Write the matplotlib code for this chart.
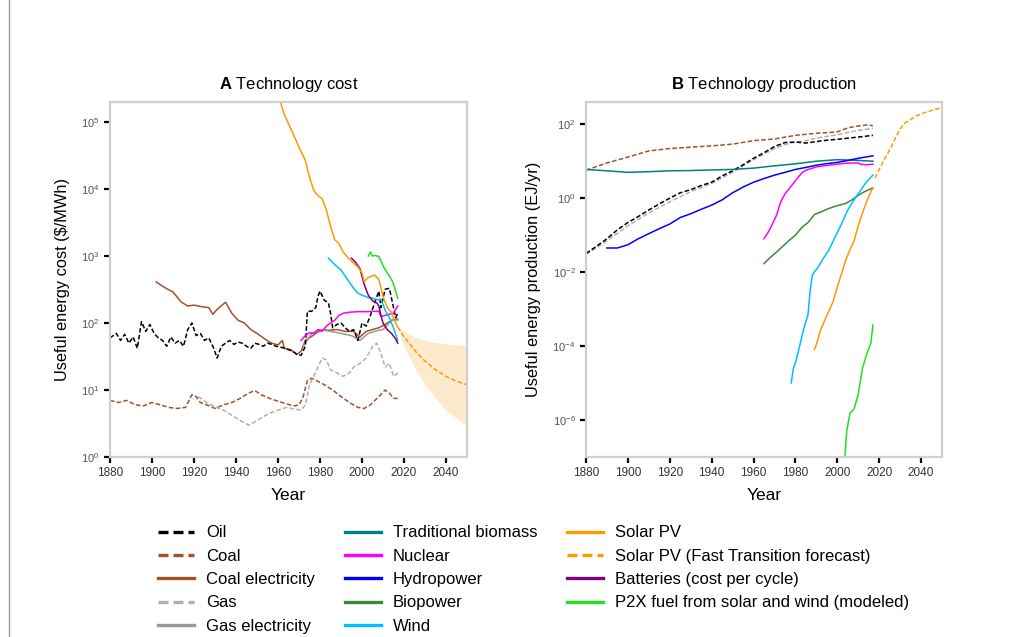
import numpy as np
import matplotlib.pyplot as plt
from matplotlib.lines import Line2D

plt.rcParams['font.family'] = ['Liberation Sans', 'DejaVu Sans']
plt.rcParams['mathtext.fontset'] = 'custom'
plt.rcParams['mathtext.rm'] = 'Liberation Sans'
plt.rcParams['mathtext.bf'] = 'Liberation Sans:bold'

# ---------------- panel A: cost ($/MWh) ----------------
oil_cost_yr = [1880, 1883, 1885, 1887, 1889, 1891, 1893, 1895, 1897, 1899, 1901, 1903, 1905, 1907,
               1909, 1911, 1913, 1915, 1917, 1919, 1921, 1923, 1925, 1927, 1929, 1931, 1933, 1935,
               1937, 1939, 1941, 1943, 1945, 1947, 1949, 1951, 1953, 1955, 1957, 1959, 1961, 1963,
               1965, 1967, 1969, 1971, 1973, 1974, 1976, 1978, 1979, 1980, 1982, 1984, 1985, 1986,
               1988, 1990, 1992, 1994, 1996, 1998, 2000, 2002, 2004, 2006, 2008, 2009, 2011, 2013,
               2015, 2016, 2017]
oil_cost = [60, 70, 55, 68, 50, 62, 42, 105, 75, 95, 70, 60, 55, 45,
            62, 50, 55, 45, 80, 100, 65, 70, 55, 60, 45, 30, 45, 50,
            55, 48, 52, 50, 45, 42, 50, 48, 45, 50, 48, 45, 44, 42,
            40, 38, 34, 33, 45, 150, 150, 170, 250, 300, 220, 200, 140, 85,
            95, 100, 85, 75, 80, 55, 100, 90, 130, 200, 300, 170, 320, 330,
            170, 120, 140]

coal_cost_yr = [1880, 1884, 1888, 1892, 1896, 1900, 1904, 1908, 1912, 1916, 1919, 1921, 1923, 1926,
                1930, 1934, 1938, 1942, 1946, 1949, 1952, 1956, 1960, 1964, 1968, 1970, 1972, 1974,
                1976, 1978, 1982, 1986, 1990, 1994, 1998, 2001, 2004, 2008, 2011, 2013, 2015, 2017]
coal_cost = [7, 6.5, 7, 6, 5.8, 6.5, 6, 5.5, 5.3, 5.5, 8.5, 8, 6.5, 6,
             5.3, 6, 6.5, 7.5, 9, 9.8, 8.5, 7.5, 6.8, 6.2, 5.8, 6, 8, 14,
             15, 14, 12, 10, 8, 6.5, 5.5, 5.3, 6, 8, 10, 9, 7.5, 7.5]

coal_el_yr = [1902, 1906, 1910, 1914, 1917, 1920, 1924, 1927, 1929, 1931, 1935, 1938, 1941, 1944,
              1947, 1950, 1954, 1957, 1960, 1962, 1963, 1966, 1969, 1971, 1973, 1975, 1978, 1981,
              1984, 1988, 1992, 1996, 1999, 2002, 2005, 2008, 2011, 2014, 2017]
coal_el_cost = [410, 340, 290, 205, 180, 185, 175, 170, 135, 160, 205, 140, 110, 100,
                80, 70, 57, 50, 47, 55, 42, 40, 34, 38, 55, 60, 70, 80,
                78, 80, 75, 75, 62, 75, 80, 85, 95, 110, 115]

gas_cost_yr = [1922, 1926, 1930, 1934, 1938, 1942, 1946, 1948, 1950, 1953, 1956, 1960, 1964, 1968,
               1971, 1973, 1975, 1977, 1979, 1981, 1983, 1985, 1988, 1991, 1994, 1996, 1999, 2002,
               2005, 2007, 2009, 2011, 2013, 2015, 2017]
gas_cost = [8, 6.5, 5.6, 5, 4.2, 3.5, 3, 3.2, 3.5, 4, 4.5, 5, 5.5, 5.2,
            5, 6, 12, 16, 22, 30, 28, 20, 18, 16, 18, 22, 25, 30,
            45, 50, 35, 22, 25, 16, 18]

gas_el_yr = [1972, 1976, 1980, 1985, 1990, 1995, 1999, 2003, 2006, 2008, 2010, 2013, 2015, 2017]
gas_el_cost = [45, 70, 80, 75, 70, 65, 55, 70, 75, 78, 80, 100, 115, 110]

nuc_cost_yr = [1971, 1973, 1975, 1977, 1979, 1981, 1983, 1985, 1987, 1989, 1991, 1994, 1998, 2002,
               2006, 2008, 2009, 2011, 2013, 2015, 2017]
nuc_cost = [55, 65, 72, 70, 80, 75, 90, 100, 110, 130, 140, 145, 148, 148,
            150, 150, 125, 130, 135, 140, 180]

pv_cost_yr = [1960, 1963, 1967, 1970, 1973, 1975, 1977, 1979, 1981, 1983, 1985, 1987, 1989, 1991,
              1993, 1996, 1998, 2000, 2001, 2003, 2006, 2008, 2010, 2012, 2014, 2016, 2017]
pv_cost = [260000, 130000, 69000, 42000, 27000, 15000, 9500, 8000, 7200, 4900, 2800, 1750, 1550, 1150,
           970, 780, 690, 560, 420, 480, 520, 450, 250, 170, 145, 100, 87]

pv_fc_yr = [2017, 2020, 2023, 2026, 2030, 2035, 2040, 2045, 2050]
pv_fc_cost = [87, 62, 48, 36, 27, 20, 16, 13.5, 12]
pv_fc_hi = [87, 75, 66, 60, 55, 51, 49, 47, 47]
pv_fc_lo = [87, 45, 29, 19, 12, 7.5, 5, 3.8, 2.9]

wind_cost_yr = [1984, 1986, 1988, 1990, 1993, 1996, 1998, 2000, 2003, 2005, 2008, 2009, 2010, 2011,
                2013, 2015, 2017]
wind_cost = [930, 800, 700, 620, 450, 330, 280, 260, 240, 235, 220, 225, 190, 155, 120, 85, 55]

batt_yr = [1995, 1997, 1999, 2001, 2003, 2005, 2007, 2008, 2009, 2010, 2012, 2014, 2016, 2017]
batt_cost = [930, 800, 650, 380, 260, 215, 200, 180, 130, 100, 80, 70, 58, 50]

p2x_cost_yr = [2003, 2004, 2005, 2006, 2008, 2010, 2012, 2014, 2015, 2016, 2017]
p2x_cost = [1000, 1150, 1000, 1020, 990, 720, 560, 450, 380, 300, 235]

# ---------------- panel B: production (EJ/yr) ----------------
coal_prod_yr = [1880, 1890, 1900, 1910, 1920, 1930, 1940, 1950, 1960, 1970, 1980, 1990, 2000, 2005,
                2010, 2014, 2017]
coal_prod = [5.7, 9, 13, 19, 22, 24, 26, 29, 36, 40, 50, 57, 62, 80, 90, 95, 92]

oil_prod_yr = [1880, 1885, 1890, 1895, 1900, 1905, 1910, 1915, 1920, 1925, 1930, 1935, 1940, 1945,
               1950, 1955, 1960, 1965, 1970, 1975, 1980, 1985, 1990, 1995, 2000, 2005, 2010, 2017]
oil_prod = [0.032, 0.05, 0.08, 0.14, 0.22, 0.32, 0.48, 0.7, 1.0, 1.4, 1.7, 2.2, 2.7, 4,
            5.5, 8, 12, 17, 25, 32, 33, 31, 34, 37, 39, 42, 45, 50]

gas_prod_yr = [1880, 1890, 1900, 1910, 1920, 1930, 1940, 1950, 1960, 1970, 1975, 1980, 1985, 1990,
               1995, 2000, 2005, 2010, 2017]
gas_prod = [0.03, 0.07, 0.18, 0.4, 0.8, 1.5, 2.5, 5, 11, 22, 28, 33, 36, 42, 47, 52, 60, 68, 78]

bio_trad_yr = [1880, 1890, 1900, 1910, 1920, 1930, 1940, 1950, 1960, 1970, 1980, 1990, 2000, 2010, 2017]
bio_trad = [6, 5.5, 5, 5.2, 5.5, 5.6, 5.8, 6, 6.5, 7.5, 8.5, 10, 11, 10.5, 10]

hydro_yr = [1890, 1895, 1900, 1905, 1910, 1915, 1920, 1925, 1930, 1935, 1940, 1945, 1950, 1955,
            1960, 1965, 1970, 1975, 1980, 1985, 1990, 1995, 2000, 2005, 2010, 2017]
hydro_prod = [0.045, 0.045, 0.055, 0.08, 0.11, 0.15, 0.2, 0.3, 0.38, 0.5, 0.65, 0.9, 1.4, 2.0,
              2.7, 3.4, 4.2, 5, 6, 6.8, 7.8, 8.6, 9.3, 10.5, 12, 14]

nuc_prod_yr = [1965, 1967, 1969, 1971, 1973, 1975, 1977, 1979, 1981, 1983, 1985, 1990, 1995, 2000,
               2005, 2010, 2011, 2014, 2017]
nuc_prod = [0.08, 0.12, 0.2, 0.35, 0.8, 1.3, 1.8, 2.5, 3.5, 4.8, 5.7, 7, 7.7, 8.3,
            8.9, 9, 8.3, 8, 8.3]

biopow_yr = [1965, 1968, 1971, 1974, 1977, 1980, 1983, 1986, 1988, 1989, 1992, 1995, 1998, 2001,
             2004, 2007, 2010, 2013, 2017]
biopow_prod = [0.017, 0.025, 0.035, 0.05, 0.072, 0.1, 0.16, 0.22, 0.3, 0.36, 0.42, 0.5, 0.58, 0.65,
               0.72, 0.9, 1.2, 1.5, 1.9]

wind_prod_yr = [1978, 1979, 1980, 1982, 1984, 1986, 1987, 1988, 1989, 1991, 1993, 1996, 1999, 2002,
                2005, 2008, 2011, 2014, 2017]
wind_prod = [1e-5, 2.5e-5, 3.5e-5, 1e-4, 3e-4, 7e-4, 3e-3, 8e-3, 0.01, 0.014, 0.022, 0.04, 0.09, 0.2,
             0.48, 0.9, 1.6, 2.8, 4.2]

pv_prod_yr = [1989, 1990, 1992, 1994, 1996, 1998, 2000, 2002, 2004, 2006, 2008, 2010, 2012, 2014,
              2016, 2017]
pv_prod = [8e-5, 1.1e-4, 2.7e-4, 5e-4, 9e-4, 1.6e-3, 4e-3, 9e-3, 2.1e-2, 4e-2, 7e-2, 0.18, 0.4, 0.8,
           1.5, 1.9]

pv_fc_prod_yr = [2018, 2020, 2022, 2024, 2026, 2028, 2030, 2032, 2035, 2038, 2042, 2046, 2050]
pv_fc_prod = [3.5, 6, 10, 16, 26, 45, 75, 105, 135, 170, 210, 245, 280]

p2x_prod_yr = [2003.5, 2004.5, 2006, 2008, 2010, 2012, 2014, 2016, 2017]
p2x_prod = [8e-8, 5e-7, 1.5e-6, 2e-6, 5e-6, 2.5e-5, 6e-5, 1.2e-4, 3.7e-4]

C_OIL, C_COAL, C_GAS, C_GASEL = 'black', '#a0522d', '#b0b0b0', '#999999'
C_TRAD, C_NUC, C_HYD, C_BIO = '#008080', '#ff00ff', '#0000ff', '#3a8a3a'
C_WIND, C_PV, C_BATT, C_P2X = '#00bfff', '#ff9900', '#800080', '#22e022'
LW = 1.1
DASH = (0, (3, 1.5))

fig = plt.figure(figsize=(10.31, 6.37), dpi=100)
axA = fig.add_axes([0.1067, 0.2826, 0.3463, 0.5573])
axB = fig.add_axes([0.5684, 0.2826, 0.3453, 0.5573])
for ax in (axA, axB):
    ax.set_yscale('log')

# panel A
axA.fill_between(pv_fc_yr, pv_fc_lo, pv_fc_hi, color='#fde8c8', lw=0, alpha=0.9)
axA.plot(coal_cost_yr, coal_cost, color=C_COAL, ls=DASH, lw=LW)
axA.plot(gas_cost_yr, gas_cost, color=C_GAS, ls=DASH, lw=LW)
axA.plot(coal_el_yr, coal_el_cost, color=C_COAL, lw=LW)
axA.plot(gas_el_yr, gas_el_cost, color=C_GASEL, lw=LW)
axA.plot(oil_cost_yr, oil_cost, color=C_OIL, ls=DASH, lw=LW)
axA.plot(nuc_cost_yr, nuc_cost, color=C_NUC, lw=LW)
axA.plot(wind_cost_yr, wind_cost, color=C_WIND, lw=LW)
axA.plot(batt_yr, batt_cost, color=C_BATT, lw=LW)
axA.plot(pv_cost_yr, pv_cost, color=C_PV, lw=LW)
axA.plot(pv_fc_yr, pv_fc_cost, color=C_PV, ls=DASH, lw=LW)
axA.plot(p2x_cost_yr, p2x_cost, color=C_P2X, lw=LW)
axA.set_ylim(1, 2e5)
axA.set_yticks([1, 10, 100, 1e3, 1e4, 1e5])
axA.set_ylabel(r'Useful energy cost (\$/MWh)', fontsize=11.8, labelpad=8)
axA.set_title(r'$\mathbf{A}$ Technology cost', fontsize=12, pad=9)

# panel B
axB.plot(coal_prod_yr, coal_prod, color=C_COAL, ls=DASH, lw=LW)
axB.plot(gas_prod_yr, gas_prod, color=C_GAS, ls=DASH, lw=LW)
axB.plot(oil_prod_yr, oil_prod, color=C_OIL, ls=DASH, lw=LW)
axB.plot(bio_trad_yr, bio_trad, color=C_TRAD, lw=LW)
axB.plot(hydro_yr, hydro_prod, color=C_HYD, lw=LW)
axB.plot(nuc_prod_yr, nuc_prod, color=C_NUC, lw=LW)
axB.plot(biopow_yr, biopow_prod, color=C_BIO, lw=LW)
axB.plot(wind_prod_yr, wind_prod, color=C_WIND, lw=LW)
axB.plot(pv_prod_yr, pv_prod, color=C_PV, lw=LW)
axB.plot(pv_fc_prod_yr, pv_fc_prod, color=C_PV, ls=DASH, lw=LW)
axB.plot(p2x_prod_yr, p2x_prod, color=C_P2X, lw=LW)
axB.set_ylim(1e-7, 400)
axB.set_yticks([1e-6, 1e-4, 1e-2, 1, 100])
axB.set_ylabel('Useful energy production (EJ/yr)', fontsize=11.8, labelpad=8)
axB.set_title(r'$\mathbf{B}$ Technology production', fontsize=12, pad=9)

for ax in (axA, axB):
    ax.set_xlim(1880, 2050)
    ax.set_xticks(range(1880, 2041, 20))
    ax.minorticks_off()
    ax.set_xlabel('Year', fontsize=12.5, labelpad=6)
    for s in ax.spines.values():
        s.set_color('#d0d0d0')
        s.set_linewidth(1.6)
    ax.tick_params(axis='both', direction='out', length=4.5, width=1.6, color='black')
    ax.tick_params(axis='x', labelsize=8.5, labelcolor='#333333', pad=3)
    ax.tick_params(axis='y', labelsize=8, labelcolor='#555555', pad=3)

# legend
labels = ['Oil', 'Coal', 'Coal electricity', 'Gas', 'Gas electricity',
          'Traditional biomass', 'Nuclear', 'Hydropower', 'Biopower', 'Wind',
          'Solar PV', 'Solar PV (Fast Transition forecast)', 'Batteries (cost per cycle)',
          'P2X fuel from solar and wind (modeled)']
styles = [(C_OIL, DASH), (C_COAL, DASH), (C_COAL, '-'), (C_GAS, DASH), (C_GASEL, '-'),
          (C_TRAD, '-'), (C_NUC, '-'), (C_HYD, '-'), (C_BIO, '-'), (C_WIND, '-'),
          (C_PV, '-'), (C_PV, DASH), (C_BATT, '-'), (C_P2X, '-')]
handles = [Line2D([], [], color=c, ls=ls, lw=2.4) for c, ls in styles]
handles.insert(14, Line2D([], [], lw=0))
labels.insert(14, '')
fig.legend(handles, labels, ncol=3, loc='upper left', bbox_to_anchor=(0.1533, 0.1753),
           frameon=False, fontsize=12, handlelength=2.15, handletextpad=0.72,
           columnspacing=1.8, labelspacing=0.5, borderpad=0, borderaxespad=0)

fig.add_artist(Line2D([0.0092, 0.0092], [0, 1], color='#999999', lw=1))

fig.savefig('out.png', dpi=100)
